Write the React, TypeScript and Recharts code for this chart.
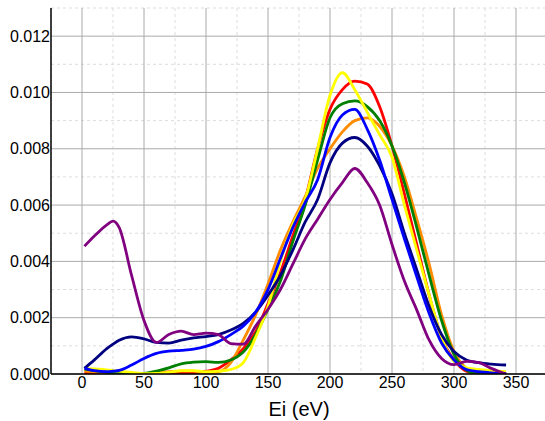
import React from 'react';
import { LineChart, Line, XAxis, YAxis, CartesianGrid, Label } from 'recharts';

const energies = [2, 10, 20, 25, 30, 40, 50, 60, 70, 80, 90, 100, 110, 120, 130, 140, 150, 160, 170, 180, 190, 200, 210, 220, 230, 240, 250, 260, 270, 280, 290, 300, 310, 320, 330, 342];

const redVals = [0.00005, 0.00003, 0.00002, 0.00002, 0.00002, 0.00002, 0.00002, 0.00002, 0.00003, 0.00003, 0.00005, 0.0001, 0.0002, 0.0005, 0.0009, 0.0015, 0.0025, 0.0036, 0.0049, 0.0062, 0.008, 0.0094, 0.0101, 0.0104, 0.0103, 0.0095, 0.0081, 0.0064, 0.0046, 0.0028, 0.0013, 0.0005, 0.0001, 0, 0, 0];
const orangeVals = [0.0001, 0.00008, 0.00005, 0.00003, 0.00002, 0, 0, 0.00003, 0.00008, 0.0001, 0.0001, 0.00005, 0.00008, 0.0004, 0.0012, 0.0021, 0.0032, 0.0044, 0.0054, 0.0063, 0.0073, 0.008, 0.0086, 0.009, 0.0091, 0.0088, 0.0081, 0.007, 0.0055, 0.0039, 0.0021, 0.0008, 0.0002, 0, 0, 0];
const greenVals = [0.00017, 0.00012, 0.00006, 0.00004, 0.00002, 0, 0.00002, 0.0001, 0.00022, 0.00036, 0.00042, 0.00044, 0.00041, 0.0005, 0.00078, 0.0014, 0.0023, 0.0033, 0.0047, 0.006, 0.0076, 0.0091, 0.0096, 0.0097, 0.0095, 0.009, 0.0081, 0.0068, 0.0052, 0.0035, 0.0019, 0.0007, 0.00014, 0, 0, 0];
const yellowVals = [0.0002, 0.00018, 0.00015, 0.00012, 0.0001, 0.00006, 0.00001, 0.00002, 0.00006, 0.00012, 0.00012, 0.00008, 0.0001, 0.00016, 0.0004, 0.0013, 0.0024, 0.004, 0.0053, 0.0062, 0.008, 0.0099, 0.0107, 0.0101, 0.0093, 0.0085, 0.0077, 0.006, 0.0044, 0.0028, 0.0013, 0.00045, 0.00022, 0.00016, 0.00012, 0.00008];
const navyVals = [0.0002, 0.0005, 0.0009, 0.00106, 0.0012, 0.00132, 0.00125, 0.00112, 0.0011, 0.0012, 0.00128, 0.00133, 0.0014, 0.00156, 0.0018, 0.0022, 0.0028, 0.0035, 0.0044, 0.0054, 0.0062, 0.0075, 0.0082, 0.0084, 0.0081, 0.0074, 0.0064, 0.005, 0.0037, 0.0024, 0.0014, 0.0008, 0.0005, 0.0004, 0.00035, 0.00032];
const blueVals = [0.0002, 0.00012, 0.00008, 0.0001, 0.00013, 0.00032, 0.00055, 0.00073, 0.00081, 0.00084, 0.00088, 0.00098, 0.00115, 0.0014, 0.0017, 0.0022, 0.003, 0.0041, 0.0052, 0.0061, 0.0069, 0.0084, 0.0092, 0.0094, 0.0087, 0.0076, 0.0062, 0.0048, 0.00345, 0.00215, 0.0011, 0.0005, 0.00016, 0.00008, 0.00004, 0.00002];
const purpleVals = [0.00454, 0.0049, 0.0053, 0.00543, 0.0052, 0.0035, 0.0019, 0.00112, 0.0014, 0.00152, 0.0014, 0.00145, 0.0014, 0.00108, 0.00106, 0.0017, 0.0023, 0.003, 0.0039, 0.0048, 0.0055, 0.0062, 0.0068, 0.0073, 0.0068, 0.006, 0.0046, 0.0033, 0.00227, 0.0012, 0.00055, 0.00033, 0.00045, 0.0004, 0.0002, 0];

const xTicks = [0, 50, 100, 150, 200, 250, 300, 350];
const xMinor = [-25, 25, 75, 125, 175, 225, 275, 325, 375];
const yTicks = [0, 0.002, 0.004, 0.006, 0.008, 0.01, 0.012];
const yMinor = [0.001, 0.003, 0.005, 0.007, 0.009, 0.011, 0.013];

const series = [
  { key: 'red', vals: redVals, color: '#ff0000' },
  { key: 'orange', vals: orangeVals, color: '#ff8c00' },
  { key: 'green', vals: greenVals, color: '#008000' },
  { key: 'yellow', vals: yellowVals, color: '#ffff00' },
  { key: 'navy', vals: navyVals, color: '#000080' },
  { key: 'blue', vals: blueVals, color: '#0000ff' },
  { key: 'purple', vals: purpleVals, color: '#800080' },
];

const data = energies.map((e, i) => {
  const row: Record<string, number> = { e };
  series.forEach((s) => { row[s.key] = s.vals[i]; });
  return row;
});

const font = '"Liberation Sans", Arial, sans-serif';

export default function App() {
  return (
    <div style={{ position: 'absolute', left: 0, top: 0, width: 545, height: 421, overflow: 'hidden', background: '#fff' }}>
      <LineChart width={547} height={421} data={data} margin={{ top: 8, right: 0, bottom: 0, left: 0 }}>
        <CartesianGrid stroke="#dddddd" strokeDasharray="3 3" horizontalValues={yMinor} verticalValues={xMinor} />
        <CartesianGrid stroke="#aaaaaa" horizontalValues={yTicks} verticalValues={xTicks} />
        <XAxis
          type="number"
          dataKey="e"
          domain={[-25, 375]}
          ticks={xTicks}
          allowDataOverflow
          height={47}
          tickLine={false}
          tickSize={2}
          tickMargin={1}
          axisLine={{ stroke: '#000', strokeWidth: 1.5 }}
          tick={{ fill: '#000', fontSize: 16, fontFamily: font }}
        >
          <Label value="Ei (eV)" position="insideBottom" offset={5} style={{ fill: '#000', fontSize: 20, fontFamily: font }} />
        </XAxis>
        <YAxis
          type="number"
          domain={[0, 0.013]}
          ticks={yTicks}
          allowDataOverflow
          width={51}
          tickLine={false}
          tickSize={1}
          tickMargin={0}
          tickFormatter={(v: number) => v.toFixed(3)}
          axisLine={{ stroke: '#000', strokeWidth: 1.5 }}
          tick={{ fill: '#000', fontSize: 16, fontFamily: font }}
        />
        {series.map((s) => (
          <Line key={s.key} type="monotone" dataKey={s.key} stroke={s.color} strokeWidth={2.8} dot={false} isAnimationActive={false} />
        ))}
      </LineChart>
    </div>
  );
}
